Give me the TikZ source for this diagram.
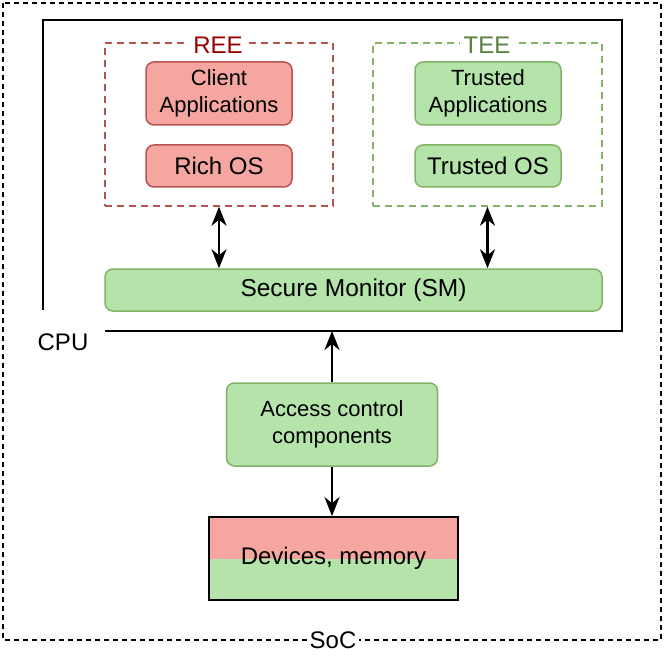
\documentclass[tikz,border=0pt]{standalone}
\usepackage{fontspec}
\setmainfont{Liberation Sans}
\usetikzlibrary{arrows.meta}
\definecolor{redfill}{HTML}{F5A6A0}
\definecolor{redline}{HTML}{B85450}
\definecolor{greenfill}{HTML}{B5E4AA}
\definecolor{greenline}{HTML}{82B366}
\definecolor{reetext}{HTML}{990000}
\definecolor{teetext}{HTML}{56803F}
\begin{document}
\begin{tikzpicture}[x=1pt,y=-1pt,
  txtA/.style={font=\fontsize{22}{27}\selectfont},
  txtB/.style={font=\fontsize{24}{28}\selectfont},
  redbox/.style={draw=redline, fill=redfill, rounded corners=8pt, line width=1.5pt, align=center, inner sep=0pt},
  greenbox/.style={draw=greenline, fill=greenfill, rounded corners=8pt, line width=1.5pt, align=center, inner sep=0pt},
  envbox/.style={draw, line width=1.5pt, dash pattern=on 7pt off 5pt, inner sep=0pt},
  dar/.style={line width=2.4pt, {Stealth[length=19pt,width=15pt,inset=6pt]}-{Stealth[length=19pt,width=15pt,inset=6pt]}},
  sar/.style={line width=2.4pt, -{Stealth[length=19pt,width=15pt,inset=6pt]}},
  lbl/.style={fill=white, inner sep=3pt}
]
\useasboundingbox (0,0) rectangle (664,663);

% SoC
\draw[line width=1.3pt, dash pattern=on 5pt off 4pt] (3,3) rectangle (661,640);
\node[lbl, txtB] (soc) at (333,640) {SoC};

% CPU
\coordinate (cpuA) at (105,331);
\coordinate (cpuB) at (622,331);
\coordinate (cpuC) at (622,20);
\coordinate (cpuD) at (43,20);
\coordinate (cpuE) at (43,310);
\draw[line width=2pt] (cpuA) -- (cpuB) -- (cpuC) -- (cpuD) -- (cpuE);
\node[txtB, inner sep=0pt] (cpu) at (63,342) {CPU};

% REE
\node[envbox, draw=redline, minimum width=228pt, minimum height=163pt] (ree) at (219,124.5) {};
\node[lbl, txtB, text=reetext, inner sep=4pt] (reelbl) at (218,45) {REE};
\node[redbox, txtA, minimum width=146pt, minimum height=63pt] (ca) at (219,93.5) {Client\\Applications};
\node[redbox, txtB, minimum width=146pt, minimum height=42pt] (ros) at (219,166) {Rich OS};

% TEE
\node[envbox, draw=greenline, minimum width=229pt, minimum height=163pt] (tee) at (487.5,124.5) {};
\node[lbl, txtB, text=teetext, inner sep=4pt] (teelbl) at (487,45) {TEE};
\node[greenbox, txtA, minimum width=146pt, minimum height=63pt] (ta) at (488,93.5) {Trusted\\Applications};
\node[greenbox, txtB, minimum width=146pt, minimum height=42pt] (tos) at (488,166) {Trusted OS};

% Secure monitor
\node[greenbox, font=\fontsize{24.5}{28}\selectfont, minimum width=497pt, minimum height=42pt] (sm) at (353.5,290) {Secure Monitor (SM)};

% Access control
\node[greenbox, txtA, minimum width=211pt, minimum height=83pt] (acc) at (332,424.5) {Access control\\components};

% Devices
\fill[redfill] (209,517) rectangle (458,559);
\fill[greenfill] (209,559) rectangle (458,600);
\node[draw, line width=1.8pt, minimum width=249pt, minimum height=83pt, txtB, inner sep=0pt] (dev) at (333.5,558.5) {Devices, memory};

% connectors
\draw[dar] (ree.south) -- (sm.north -| ree.south);
\draw[dar] (tee.south) -- (sm.north -| tee.south);
\draw[sar] (acc.north) -- (acc.north |- cpuA);
\draw[sar] (acc.south) -- (dev.north -| acc.south);
\end{tikzpicture}
\end{document}
